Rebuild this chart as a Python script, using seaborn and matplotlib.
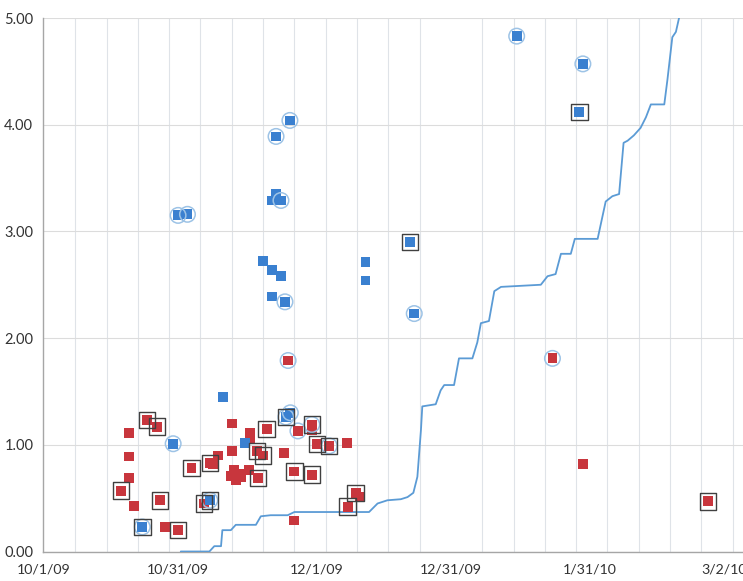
import numpy as np
import pandas as pd
import seaborn as sns
import matplotlib.pyplot as plt
import matplotlib.dates as mdates
import matplotlib.ticker as mticker

START = pd.Timestamp("2009-10-01")

# cumulative line (days after 10/1/09, value)
line_day = [30.6, 37.0, 38.1, 39.6, 39.9, 41.8, 42.9, 47.4, 48.5, 50.7, 54.5, 56.0,
            72.7, 74.6, 76.8, 79.8, 81.3, 82.6, 83.5, 84.3, 84.6, 87.6, 88.7, 89.5,
            91.7, 92.8, 95.8, 96.9, 97.7, 99.5, 100.7, 102.2, 111.1, 112.6, 114.4,
            115.6, 117.8, 118.7, 123.8, 125.6, 127.1, 128.6, 129.6, 130.5, 131.9,
            133.4, 134.6, 135.7, 138.7, 139.4, 140.5, 141.3, 142.0, 142.6]
line_val = [0.00, 0.00, 0.05, 0.05, 0.20, 0.20, 0.25, 0.25, 0.33, 0.34, 0.34, 0.37,
            0.37, 0.45, 0.48, 0.49, 0.51, 0.55, 0.70, 1.14, 1.36, 1.38, 1.51, 1.56,
            1.56, 1.81, 1.81, 1.96, 2.14, 2.16, 2.44, 2.48, 2.50, 2.58, 2.60,
            2.79, 2.79, 2.93, 2.93, 3.28, 3.33, 3.35, 3.83, 3.85, 3.90,
            3.97, 4.07, 4.19, 4.19, 4.42, 4.82, 4.87, 5.00, 5.10]

# red points
red_day = [19.1, 23.0, 25.3, 19.0, 19.0, 17.2, 20.1, 27.0, 30.0, 26.0, 33.0, 37.1,
           39.0, 35.8, 42.0, 42.0, 42.5, 43.7, 41.8, 42.9, 44.0, 45.9, 47.9, 49.8,
           46.0, 46.0, 47.6, 49.0, 53.7, 56.8, 59.9, 59.9, 61.0, 63.8, 67.7, 56.0,
           59.9, 56.0, 69.7, 70.7, 67.9, 54.6, 113.7, 120.6, 148.5, 37.8]
red_val = [1.11, 1.23, 1.17, 0.89, 0.69, 0.57, 0.43, 0.23, 0.20, 0.48, 0.78, 0.83,
           0.90, 0.45, 1.20, 0.94, 0.76, 0.73, 0.71, 0.67, 0.70, 0.76, 0.69, 1.15,
           1.11, 1.05, 0.94, 0.90, 0.92, 1.13, 1.19, 1.14, 1.01, 0.99, 1.02, 0.75,
           0.72, 0.29, 0.55, 0.51, 0.42, 1.79, 1.81, 0.82, 0.47, 0.82]
red_flag = ["", "box", "box", "", "", "box", "", "", "box", "box", "box", "box",
            "", "box", "", "", "", "", "", "", "", "", "box", "box",
            "", "", "box", "box", "", "circle", "both", "", "box", "both", "", "box",
            "box", "", "box", "", "box", "circle", "circle", "", "box", ""]

# blue points
blue_day = [22.0, 28.9, 37.1, 40.0, 44.9, 54.1, 55.1, 55.0, 51.9, 51.9, 50.9, 53.0,
            30.0, 32.1, 49.0, 51.0, 53.0, 51.0, 53.9, 71.9, 71.9, 105.7, 120.5,
            119.7, 81.8, 82.8]
blue_val = [0.23, 1.01, 0.48, 1.45, 1.02, 1.26, 1.30, 4.04, 3.89, 3.35, 3.29, 3.29,
            3.15, 3.16, 2.72, 2.64, 2.58, 2.39, 2.34, 2.71, 2.54, 4.83, 4.57,
            4.12, 2.90, 2.23]
blue_flag = ["both", "circle", "both", "", "", "both", "circle", "circle", "circle",
             "", "", "circle", "circle", "circle", "", "", "", "", "circle", "", "",
             "circle", "circle", "box", "box", "circle"]

tick_dates = ["2009-10-01", "2009-10-31", "2009-12-01", "2009-12-31", "2010-01-31", "2010-03-02"]

line_df = pd.DataFrame({"date": START + pd.to_timedelta(line_day, unit="D"), "value": line_val})
pts = pd.concat([
    pd.DataFrame({"date": START + pd.to_timedelta(red_day, unit="D"), "value": red_val,
                  "series": "red", "flag": red_flag}),
    pd.DataFrame({"date": START + pd.to_timedelta(blue_day, unit="D"), "value": blue_val,
                  "series": "blue", "flag": blue_flag}),
], ignore_index=True)

sns.set_style("white")
plt.rcParams["font.family"] = ["Lato", "DejaVu Sans"]

fig = plt.figure(figsize=(7.43, 5.81), dpi=100)
ax = fig.add_axes([43 / 743, 1 - 551.5 / 581, 700 / 743, 533.5 / 581])

sns.lineplot(data=line_df, x="date", y="value", color="#5b9bd5", lw=1.3,
             estimator=None, sort=False, ax=ax, zorder=3)
sns.scatterplot(data=pts, x="date", y="value", hue="series",
                palette={"red": "#c8363d", "blue": "#3a80d0"}, marker="s", s=50,
                linewidth=0, legend=False, ax=ax, zorder=4)
circ = pts[pts["flag"].isin(["circle", "both"])]
sns.scatterplot(data=circ, x="date", y="value", marker="o", s=125, facecolors="none",
                edgecolor="#9dc3e6", linewidth=1.1, legend=False, ax=ax, zorder=5)
box = pts[pts["flag"].isin(["box", "both"])]
sns.scatterplot(data=box, x="date", y="value", marker="s", s=140, facecolors="none",
                edgecolor="#404040", linewidth=1.0, legend=False, ax=ax, zorder=5)

ax.set_xlim(START + pd.Timedelta(days=-0.2), START + pd.Timedelta(days=156.3))
ax.set_ylim(0, 5)

ticks = pd.to_datetime(tick_dates)
ax.set_xticks(mdates.date2num(ticks))
ax.set_xticklabels([f"{d.month}/{d.day}/{d.year % 100:02d}" for d in ticks])
weeks = pd.date_range(START, periods=23, freq="7D")
ax.xaxis.set_minor_locator(mticker.FixedLocator(mdates.date2num(weeks)))
ax.set_yticks(np.arange(0, 5.01, 1))
ax.yaxis.set_major_formatter(mticker.FormatStrFormatter("%.2f"))

ax.grid(False)
ax.yaxis.grid(True, which="major", color="#dcdcdc", lw=0.8)
ax.xaxis.grid(True, which="minor", color="#dfe3e8", lw=0.8)
ax.set_axisbelow(True)

for s in ["top", "right"]:
    ax.spines[s].set_visible(False)
for s in ["left", "bottom"]:
    ax.spines[s].set_color("#a6a6a6")
    ax.spines[s].set_linewidth(1.0)

ax.tick_params(axis="x", which="major", length=4, color="#a6a6a6", labelsize=10.2,
               labelcolor="#333333", pad=5, direction="out")
ax.tick_params(axis="x", which="minor", length=0)
ax.tick_params(axis="y", length=4, color="#a6a6a6", labelsize=10.5,
               labelcolor="#333333", pad=3, direction="out")
ax.set_xlabel("")
ax.set_ylabel("")

plt.savefig("out.png", dpi=100)
plt.close()
